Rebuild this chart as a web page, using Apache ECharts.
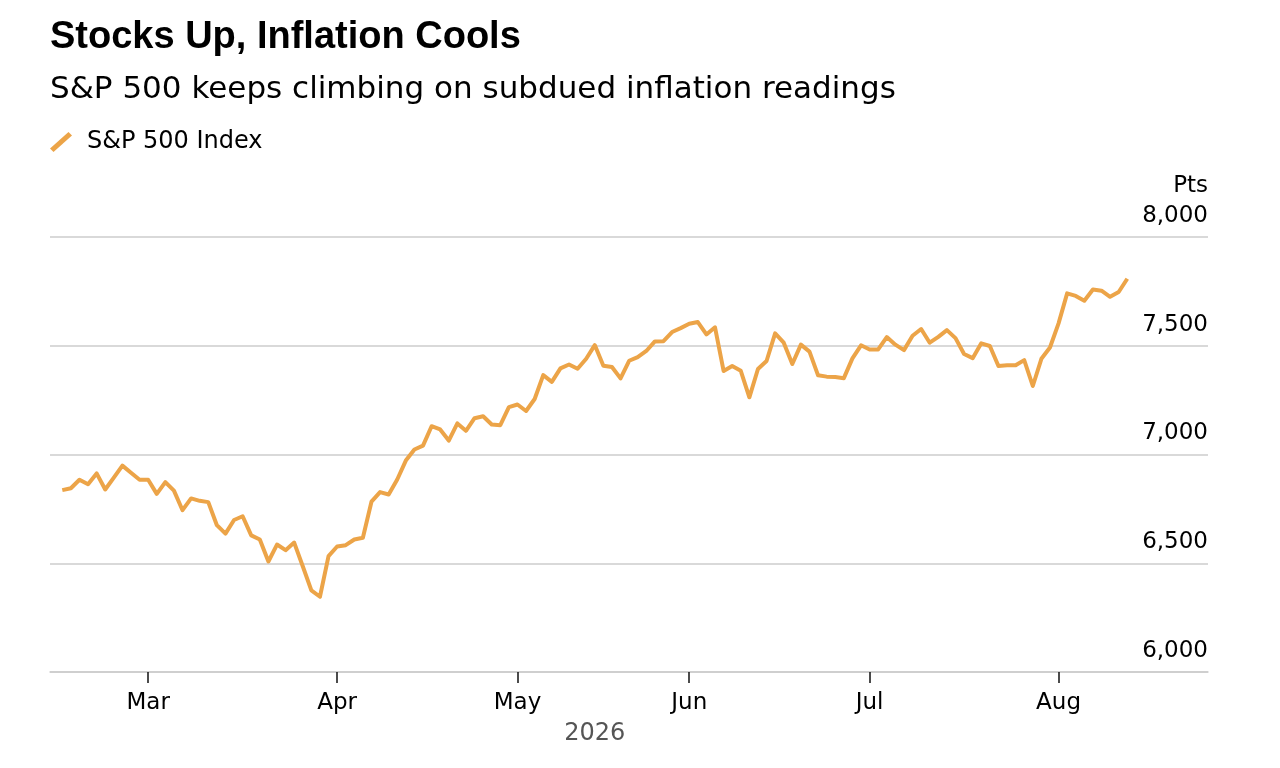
<!DOCTYPE html>
<html>
<head>
<meta charset="utf-8">
<script src="https://cdn.jsdelivr.net/npm/echarts@6/dist/echarts.min.js"></script>
<style>
html, body { margin: 0; padding: 0; background: #fff; }
#chart { width: 1280px; height: 768px; }
</style>
</head>
<body>
<div id="chart"></div>
<script>
// trading days shown on the x axis (weekends + market holidays skipped)
var startDate = '2026-02-13';
var endDate = '2026-08-13';
var holidays = ['2026-02-16', '2026-04-03', '2026-05-25', '2026-06-19', '2026-07-03'];
var monthNames = ['Jan', 'Feb', 'Mar', 'Apr', 'May', 'Jun', 'Jul', 'Aug', 'Sep', 'Oct', 'Nov', 'Dec'];

// S&P 500 close, one value per trading day
var spx = [
    6836, 6845, 6884, 6863, 6913, 6839, 6894, 6949, 6916, 6884,
    6884, 6819, 6873, 6834, 6744, 6798, 6787, 6781, 6675, 6636,
    6699, 6716, 6628, 6609, 6508, 6586, 6560, 6595, 6486, 6375,
    6346, 6533, 6577, 6583, 6609, 6617, 6783, 6827, 6816, 6885,
    6972, 7023, 7041, 7130, 7115, 7064, 7143, 7109, 7167, 7176,
    7138, 7135, 7218, 7230, 7200, 7255, 7365, 7334, 7396, 7414,
    7394, 7440, 7503, 7408, 7402, 7350, 7431, 7448, 7476, 7520,
    7521, 7563, 7581, 7601, 7609, 7552, 7585, 7384, 7407, 7385,
    7263, 7393, 7430, 7557, 7514, 7416, 7505, 7473, 7364, 7358,
    7356, 7351, 7442, 7502, 7483, 7483, 7540, 7505, 7480, 7546,
    7577, 7514, 7541, 7572, 7535, 7462, 7443, 7511, 7499, 7407,
    7410, 7410, 7434, 7315, 7440, 7492, 7603, 7741, 7729, 7707,
    7759, 7753, 7725, 7747, 7808
];

var lineColor = '#eca448';
var fontMain = '"Liberation Sans", Arial, sans-serif';
var fontText = '"DejaVu Sans", sans-serif';

function tradingDays(from, to) {
    var out = [];
    var d = new Date(from + 'T00:00:00Z');
    var end = new Date(to + 'T00:00:00Z');
    while (d <= end) {
        var s = d.toISOString().slice(0, 10);
        var wd = d.getUTCDay();
        if (wd != 0 && wd != 6 && holidays.indexOf(s) < 0) out.push(s);
        d.setUTCDate(d.getUTCDate() + 1);
    }
    return out;
}

var dates = tradingDays(startDate, endDate);

// first trading day of each month gets a tick
var monthStarts = [];
for (var i = 1; i < dates.length; i++) {
    if (dates[i].slice(5, 7) != dates[i - 1].slice(5, 7)) monthStarts.push(i);
}

var seriesData = [];
for (var i = 0; i < spx.length; i++) {
    seriesData.push([i, spx[i]]);
}

var chart = echarts.init(document.getElementById('chart'));

chart.setOption({
    animation: false,
    backgroundColor: '#fff',
    title: [{
        text: 'Stocks Up, Inflation Cools',
        left: 50,
        top: 16,
        padding: 0,
        textStyle: { fontFamily: fontMain, fontSize: 38, fontWeight: 'bold', color: '#000', lineHeight: 44 }
    }, {
        text: 'S&P 500 keeps climbing on subdued inflation readings',
        left: 50,
        top: 71,
        padding: 0,
        textStyle: { fontFamily: fontText, fontSize: 31, fontWeight: 'normal', color: '#000', lineHeight: 38 }
    }],
    legend: {
        left: 50,
        top: 130,
        padding: 0,
        itemWidth: 22,
        itemHeight: 20,
        icon: 'path://M0,16.5 L18.5,0 L22,3.5 L3.5,20 Z',
        itemStyle: { borderWidth: 0 },
        textStyle: { fontFamily: fontText, fontSize: 24, color: '#000', padding: [0, 0, 0, 10] },
        data: ['S&P 500 Index']
    },
    grid: {
        left: 50,
        right: 72,
        top: 237,
        bottom: 96,
        containLabel: false
    },
    xAxis: {
        type: 'value',
        min: -1.43,
        max: 133.4,
        splitLine: { show: false },
        axisLine: { show: true, lineStyle: { color: '#cccccc', width: 1.5 } },
        axisTick: {
            show: true,
            customValues: monthStarts,
            length: 11,
            lineStyle: { color: '#111', width: 1.5 }
        },
        axisLabel: {
            customValues: monthStarts,
            margin: 20,
            fontFamily: fontText,
            fontSize: 23,
            color: '#000',
            formatter: function (v) {
                return monthNames[parseInt(dates[v].slice(5, 7), 10) - 1];
            }
        }
    },
    yAxis: {
        type: 'value',
        position: 'right',
        min: 6000,
        max: 8000,
        interval: 500,
        axisLine: { show: false },
        axisTick: { show: false },
        splitLine: { lineStyle: { color: '#cccccc', width: 1.5 } },
        axisLabel: {
            inside: true,
            margin: 0,
            fontFamily: fontText,
            fontSize: 23,
            color: '#000',
            align: 'right',
            verticalAlign: 'bottom',
            lineHeight: 28,
            padding: [0, 0, 7, 0],
            formatter: function (v) { return v.toLocaleString('en-US'); }
        }
    },
    series: [{
        name: 'S&P 500 Index',
        type: 'line',
        data: seriesData,
        showSymbol: false,
        symbol: 'none',
        color: lineColor,
        itemStyle: { color: lineColor },
        lineStyle: { color: lineColor, width: 4, join: 'round' }
    }]
});

// unit label above the value axis, and the year centred under the data span
var rightX = chart.convertToPixel({ xAxisIndex: 0 }, 133.4);
var topY = chart.convertToPixel({ yAxisIndex: 0 }, 8000);
var midX = chart.convertToPixel({ xAxisIndex: 0 }, (spx.length - 1) / 2);
chart.setOption({
    graphic: [{
        type: 'text',
        x: rightX,
        y: topY - 51,
        style: {
            text: 'Pts',
            fontFamily: fontText,
            fontSize: 23,
            fill: '#000',
            align: 'right',
            verticalAlign: 'middle'
        }
    }, {
        type: 'text',
        x: midX,
        y: 734,
        style: {
            text: '2026',
            fontFamily: fontText,
            fontSize: 24,
            fill: '#555',
            align: 'center',
            verticalAlign: 'middle'
        }
    }]
});
</script>
</body>
</html>
